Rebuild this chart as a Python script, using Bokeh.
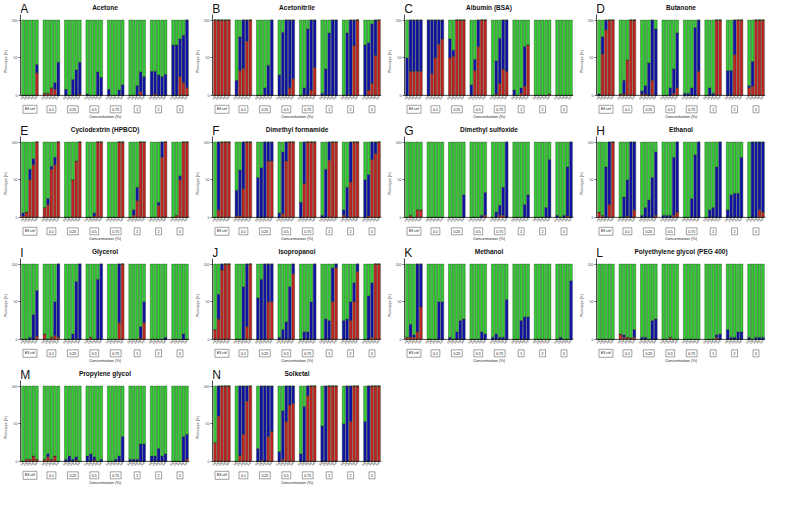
from bokeh.plotting import figure
from bokeh.layouts import gridplot
from bokeh.models import FactorRange, Range1d, ColumnDataSource, FixedTicker, Span
from bokeh.core.properties import value
from bokeh.embed import file_html
from bokeh.resources import INLINE

groups = ["E3 ctrl", "0.1", "0.25", "0.5", "0.75", "1", "2", "5"]
days = ["1d", "2d", "3d", "4d", "5d"]
letters = ["A", "B", "C", "D", "E", "F", "G", "H", "I", "J", "K", "L", "M", "N"]
titles = ["Acetone", "Acetonitrile", "Albumin (BSA)", "Butanone",
          "Cyclodextrin (HPBCD)", "Dimethyl formamide", "Dimethyl sulfoxide", "Ethanol",
          "Glycerol", "Isopropanol", "Methanol", "Polyethylene glycol (PEG 400)",
          "Propylene glycol", "Solketal"]

# red (bottom) and blue (middle) percentages; green = remainder
acetone_red = [[0,0,0,0,30],[3,3,10,8,0],[0,0,0,0,2],[0,0,0,0,0],[0,0,0,0,0],[0,0,0,5,0],[0,2,0,0,0],[0,0,25,17,10]]
acetone_blue = [[0,0,0,0,11],[0,0,0,9,44],[8,0,21,34,42],[2,0,0,31,24],[8,0,0,7,14],[0,0,13,26,25],[32,30,27,25,28],[67,67,50,63,90]]
acetonitrile_red = [[100,100,100,100,100],[0,33,36,72,100],[0,0,0,0,0],[0,0,0,10,22],[0,0,0,7,37],[0,0,0,0,0],[0,0,0,66,100],[0,7,16,53,100]]
acetonitrile_blue = [[0,0,0,0,0],[20,45,64,28,0],[0,0,10,40,100],[27,84,100,90,78],[0,10,88,93,63],[3,35,83,100,100],[0,83,100,34,0],[67,63,79,47,0]]
albumin_red = [[0,32,32,32,32],[0,29,50,68,75],[50,52,100,100,100],[0,33,65,100,100],[0,2,16,35,32],[0,0,3,12,67],[0,0,0,0,2],[0,0,0,0,0]]
albumin_blue = [[50,68,68,68,68],[100,71,50,32,25],[25,8,0,0,0],[14,15,35,0,0],[0,44,60,65,68],[7,0,7,53,0],[0,0,0,0,0],[0,0,0,0,0]]
butanone_red = [[0,55,87,100,100],[2,2,47,100,100],[2,2,0,20,0],[0,0,0,3,10],[0,0,0,0,32],[0,0,0,100,100],[0,0,54,100,100],[10,12,100,100,100]]
butanone_blue = [[2,23,13,0,0],[0,18,0,0,0],[4,11,43,80,88],[0,0,10,32,73],[3,3,10,90,68],[0,10,3,0,0],[33,33,46,0,0],[3,33,0,0,0]]
cyclodextrin_red = [[2,7,50,70,100],[13,17,64,70,100],[0,0,50,75,100],[0,0,2,100,100],[0,0,0,100,100],[0,3,22,100,100],[0,0,16,80,100],[0,3,50,100,100]]
cyclodextrin_blue = [[4,0,14,8,0],[0,8,4,10,0],[0,0,0,0,0],[0,0,4,0,0],[0,0,0,0,0],[0,7,18,0,0],[0,0,4,20,0],[0,0,5,0,0]]
dmf_red = [[0,10,100,100,100],[2,2,38,100,100],[0,0,0,75,75],[0,5,75,100,100],[0,45,100,100,100],[0,0,76,100,100],[3,0,47,100,100],[0,2,77,85,100]]
dmf_blue = [[0,90,0,0,0],[34,61,62,0,0],[53,66,100,25,25],[6,82,25,0,0],[20,55,0,0,0],[3,64,24,0,0],[7,40,53,0,0],[50,55,23,15,0]]
dmso_red = [[0,3,0,10,10],[0,0,0,0,0],[0,0,0,0,0],[0,0,0,0,3],[0,0,3,3,0],[0,0,0,0,0],[0,0,0,0,0],[0,0,0,2,0]]
dmso_blue = [[0,0,0,0,0],[0,0,0,0,0],[0,0,0,0,30],[0,0,0,3,30],[0,7,13,37,100],[0,0,0,17,30],[0,0,0,13,77],[3,0,3,65,100]]
ethanol_red = [[7,3,0,17,100],[0,0,2,0,10],[0,0,0,0,3],[0,0,0,3,7],[0,0,0,0,0],[0,0,0,0,0],[0,0,0,0,0],[0,0,0,10,7]]
ethanol_blue = [[0,0,67,83,0],[0,27,48,100,90],[3,13,23,53,84],[3,3,3,77,93],[0,0,25,83,100],[0,10,13,67,100],[10,30,32,32,80],[0,100,100,90,93]]
glycerol_red = [[0,0,0,0,4],[7,0,3,5,3],[0,0,0,0,0],[0,3,0,0,0],[0,0,0,22,100],[0,0,0,2,22],[0,0,0,0,0],[0,0,0,0,0]]
glycerol_blue = [[0,0,3,33,61],[0,0,0,45,97],[0,0,7,77,100],[0,0,0,80,100],[0,0,0,78,0],[0,0,0,15,28],[0,0,0,0,3],[0,0,0,7,0]]
isopropanol_red = [[13,27,92,100,100],[0,0,0,17,100],[0,0,0,50,50],[0,0,0,0,87],[0,0,0,0,0],[0,0,0,50,95],[0,0,25,50,90],[0,0,3,100,100]]
isopropanol_blue = [[0,33,8,0,0],[0,0,70,83,0],[55,80,100,50,50],[3,13,23,70,13],[0,10,10,50,100],[0,27,25,45,5],[25,27,25,25,10],[0,58,72,0,0]]
methanol_red = [[3,3,3,10,43],[0,0,0,0,0],[0,0,0,0,0],[0,0,0,0,0],[0,0,0,0,0],[0,0,0,0,0],[0,0,0,0,0],[0,0,0,0,0]]
methanol_blue = [[0,17,3,90,57],[0,0,0,50,50],[3,0,10,25,27],[0,0,0,10,7],[3,7,3,3,53],[0,0,25,30,30],[0,0,0,0,0],[0,3,0,0,78]]
peg_red = [[0,0,0,0,0],[7,3,3,2,3],[0,0,0,0,0],[0,0,3,0,0],[0,0,0,0,0],[0,0,0,3,0],[0,0,0,0,0],[0,0,0,0,0]]
peg_blue = [[0,0,0,0,0],[0,3,0,0,10],[3,3,0,25,27],[0,0,0,0,0],[0,0,0,0,0],[0,0,0,3,7],[13,3,3,10,10],[3,0,3,3,3]]
propylene_red = [[0,3,3,7,3],[3,6,3,7,0],[0,0,0,2,0],[0,0,2,0,0],[0,0,0,0,0],[0,0,0,0,0],[0,0,0,0,0],[0,0,0,0,3]]
propylene_blue = [[0,0,0,0,0],[0,4,0,0,0],[3,7,3,4,0],[7,10,4,0,3],[0,0,3,7,33],[3,3,3,23,23],[7,7,17,7,10],[0,0,0,33,33]]
solketal_red = [[25,60,100,100,100],[0,8,36,80,100],[0,2,0,33,40],[0,3,53,75,77],[0,0,87,100,100],[0,0,100,100,100],[0,0,53,100,100],[0,0,100,100,100]]
solketal_blue = [[0,40,0,0,0],[0,92,64,20,0],[17,98,100,67,60],[13,64,47,25,23],[10,73,13,0,0],[47,100,0,0,0],[50,100,47,0,0],[53,100,0,0,0]]

panels_red = [acetone_red, acetonitrile_red, albumin_red, butanone_red, cyclodextrin_red, dmf_red,
              dmso_red, ethanol_red, glycerol_red, isopropanol_red, methanol_red, peg_red,
              propylene_red, solketal_red]
panels_blue = [acetone_blue, acetonitrile_blue, albumin_blue, butanone_blue, cyclodextrin_blue, dmf_blue,
               dmso_blue, ethanol_blue, glycerol_blue, isopropanol_blue, methanol_blue, peg_blue,
               propylene_blue, solketal_blue]

GREEN = "#33cc33"
BLUE = "#1111aa"
RED = "#c42222"
FONT = "Liberation Sans"
GROUP_PAD = 1.2
Y_LO, Y_HI = -36, 126      # frame extends below 0 (group boxes) and above 100 (title)
TICKLAB_Y, BOX_Y, XLABEL_Y = -1.5, -18.5, -27.5
TITLE_Y = 117

factors = [(g, d) for g in groups for d in days]
n_units = len(groups) * len(days) + (len(groups) - 1) * GROUP_PAD
group_centers = [i * (len(days) + GROUP_PAD) + len(days) / 2 for i in range(len(groups))]


def make_panel(letter, title, red, blue):
    r = [v for grp in red for v in grp]
    b = [v for grp in blue for v in grp]
    gr = [100 - x - y for x, y in zip(r, b)]
    src = ColumnDataSource(dict(x=factors, red=r, blue=b, green=gr,
                                lab=[d for g in groups for d in days],
                                ly=[TICKLAB_Y] * len(factors)))
    p = figure(x_range=FactorRange(*factors, group_padding=GROUP_PAD, factor_padding=0.0, range_padding=0.01),
               y_range=Range1d(Y_LO, Y_HI), width=192, height=122,
               output_backend="svg", toolbar_location=None, x_axis_location=None,
               min_border_left=0, min_border_right=3, min_border_top=0, min_border_bottom=0)
    p.vbar_stack(["red", "blue", "green"], x="x", width=0.82, color=[RED, BLUE, GREEN],
                 line_color="#1a3a1a", line_width=0.4, source=src)
    p.xgrid.grid_line_color = None
    p.ygrid.grid_line_color = None
    p.outline_line_color = None

    p.yaxis.ticker = FixedTicker(ticks=[0, 50, 100])
    p.yaxis.bounds = (0, 108)
    p.yaxis.axis_label = "Phenotype (%)"
    p.yaxis.axis_label_text_font_size = "3.5px"
    p.yaxis.axis_label_text_font_style = "normal"
    p.yaxis.axis_label_text_font = FONT
    p.yaxis.axis_label_standoff = 1
    p.yaxis.major_label_text_font_size = "3.5px"
    p.yaxis.major_label_text_font = FONT
    p.yaxis.minor_tick_line_color = None
    p.yaxis.major_tick_out = 2
    p.yaxis.major_tick_in = 0
    p.yaxis.major_label_standoff = 1
    p.yaxis.axis_line_width = 0.7
    p.yaxis.major_tick_line_width = 0.6

    # x axis baseline at 0
    p.add_layout(Span(location=0, dimension="width", line_color="black", line_width=0.7))

    # rotated per-bar labels under the axis
    p.text(x="x", y="ly", text="lab", source=src, angle=0.8, text_font=value(FONT),
           text_font_size="3.5px", text_align="right", text_baseline="middle", text_color="#222222")
    # boxed concentration labels
    box_src = ColumnDataSource(dict(x=group_centers, y=[BOX_Y] * len(groups), text=groups))
    p.text(x="x", y="y", text="text", source=box_src, text_font=value(FONT), text_font_size="3.5px",
           text_align="center", text_baseline="middle", border_line_color="#444444",
           border_line_width=0.5, background_fill_color="white", padding=2)
    # axis title, panel title, panel letter
    p.text(x=[n_units / 2], y=[XLABEL_Y], text=["Concentration (%)"], text_font=value(FONT),
           text_font_size="4px", text_align="center", text_baseline="middle", text_color="#222222")
    p.text(x=[n_units / 2], y=[TITLE_Y], text=[title], text_font=value(FONT), text_font_size="6.5px",
           text_font_style="bold", text_align="center", text_baseline="middle", text_color="#111111")
    p.text(x=[0], y=[Y_HI], text=[letter], text_font=value(FONT), text_font_size="12px",
           text_align="left", text_baseline="top", text_color="#111111", x_offset=-1, y_offset=1)
    return p


plots = [make_panel(letters[i], titles[i], panels_red[i], panels_blue[i]) for i in range(len(titles))]
grid = gridplot(plots, ncols=4, toolbar_location=None)

open("out.html", "w").write(file_html(grid, INLINE))
